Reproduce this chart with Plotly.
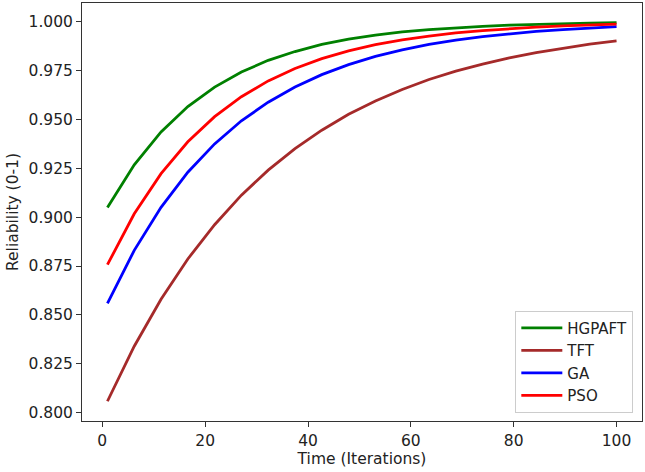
import plotly.graph_objects as go

iterations = [1, 6.21, 11.42, 16.63, 21.84, 27.05, 32.26, 37.47, 42.68, 47.89,
              53.11, 58.32, 63.53, 68.74, 73.95, 79.16, 84.37, 89.58, 94.79, 100]

hgpaft = [0.9049, 0.9267, 0.9435, 0.9565, 0.9664, 0.9741, 0.9801, 0.9846, 0.9882, 0.9909,
          0.9930, 0.9946, 0.9958, 0.9968, 0.9975, 0.9981, 0.9985, 0.9989, 0.9991, 0.9993]
tft = [0.8059, 0.8340, 0.8580, 0.8786, 0.8961, 0.9112, 0.9240, 0.9350, 0.9444, 0.9525,
       0.9593, 0.9652, 0.9703, 0.9746, 0.9782, 0.9814, 0.9841, 0.9864, 0.9884, 0.9900]
ga = [0.8559, 0.8830, 0.9050, 0.9229, 0.9374, 0.9492, 0.9587, 0.9665, 0.9728, 0.9779,
      0.9821, 0.9854, 0.9882, 0.9904, 0.9922, 0.9937, 0.9949, 0.9958, 0.9966, 0.9973]
pso = [0.8757, 0.9017, 0.9222, 0.9385, 0.9513, 0.9615, 0.9696, 0.9759, 0.9810, 0.9849,
       0.9881, 0.9906, 0.9925, 0.9941, 0.9953, 0.9963, 0.9971, 0.9977, 0.9982, 0.9986]

series_names = ["HGPAFT", "TFT", "GA", "PSO"]
series_values = [hgpaft, tft, ga, pso]
series_colors = ["#008000", "#a52a2a", "#0000ff", "#ff0000"]

x_ticks = [0, 20, 40, 60, 80, 100]
y_ticks = [0.800, 0.825, 0.850, 0.875, 0.900, 0.925, 0.950, 0.975, 1.000]

FS = 15.5
FONT = dict(family="DejaVu Sans", size=FS, color="#222")

fig = go.Figure()
for name, vals, col in zip(series_names, series_values, series_colors):
    fig.add_trace(go.Scatter(x=iterations, y=vals, mode="lines", name=name,
                             legendgroup=name,
                             line=dict(color=col, width=2.8)))

axis_common = dict(showline=True, linecolor="#333", linewidth=1, mirror=True,
                   ticks="outside", ticklen=5, tickcolor="#333", showgrid=False,
                   zeroline=False, tickfont=FONT)

fig.update_layout(
    width=645, height=472,
    margin=dict(l=82, r=3, t=3, b=51),
    paper_bgcolor="white", plot_bgcolor="white",
    font=FONT,
    xaxis=dict(range=[-3.95, 104.95], tickvals=x_ticks,
               title=dict(text="Time (Iterations)", standoff=4, font=FONT), **axis_common),
    yaxis=dict(range=[0.7958, 1.0094], tickvals=y_ticks, tickformat=".3f",
               title=dict(text="Reliability (0-1)", standoff=6, font=FONT), **axis_common),
    legend=dict(x=0.9845, y=0.02, xanchor="right", yanchor="bottom",
                bgcolor="white", bordercolor="#ccc", borderwidth=1,
                font=dict(family="DejaVu Sans", size=15, color="#222"),
                traceorder="grouped", tracegroupgap=0, itemwidth=41),
    showlegend=True,
)

fig.write_html("out.html")
